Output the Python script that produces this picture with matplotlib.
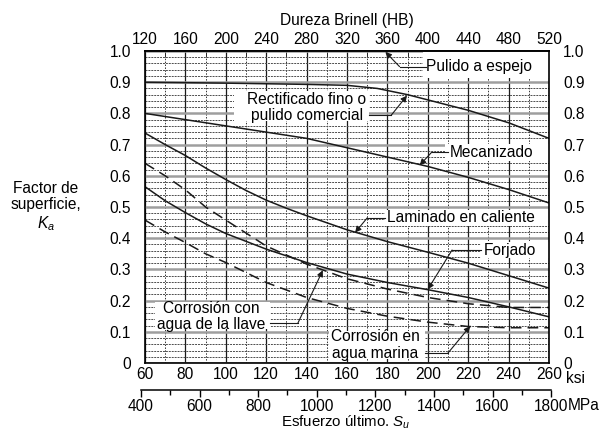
import matplotlib.pyplot as plt
from matplotlib.patches import Rectangle
from matplotlib.ticker import MultipleLocator

'''
Factor de superficie Ka vs esfuerzo ultimo (ksi), con escalas de
dureza Brinell arriba y MPa abajo. Valores leidos de la grafica.
'''

plt.rcParams['font.family'] = ['Liberation Sans', 'DejaVu Sans']
plt.rcParams['mathtext.fontset'] = 'custom'
plt.rcParams['mathtext.rm'] = 'Liberation Sans'
plt.rcParams['mathtext.it'] = 'Liberation Sans:italic'
FS = 11.2

KSI_TO_MPA = 6.895

# curvas: esfuerzo ultimo (ksi) -> Ka
espejo_su = [60, 260]
espejo_ka = [1.0, 1.0]

rect_su = [60, 100, 140, 160, 175, 190, 205, 220, 240, 260]
rect_ka = [0.90, 0.897, 0.893, 0.89, 0.88, 0.86, 0.835, 0.81, 0.77, 0.72]

mec_su = [60, 80, 100, 120, 140, 160, 180, 200, 220, 240, 260]
mec_ka = [0.80, 0.78, 0.76, 0.74, 0.72, 0.69, 0.66, 0.63, 0.595, 0.556, 0.513]

lam_su = [60, 70, 80, 90, 100, 110, 120, 130, 140, 160, 180, 200, 220, 240, 260]
lam_ka = [0.737, 0.70, 0.665, 0.625, 0.588, 0.553, 0.522, 0.496, 0.472, 0.427, 0.389, 0.355, 0.32, 0.28, 0.24]

forj_su = [60, 70, 80, 90, 100, 120, 140, 160, 180, 200, 220, 240, 260]
forj_ka = [0.565, 0.52, 0.482, 0.446, 0.415, 0.365, 0.322, 0.285, 0.258, 0.235, 0.21, 0.18, 0.148]

llave_su = [60, 70, 80, 90, 100, 120, 140, 160, 180, 200, 220, 240, 260]
llave_ka = [0.64, 0.60, 0.555, 0.50, 0.458, 0.375, 0.317, 0.27, 0.237, 0.21, 0.19, 0.178, 0.178]

marina_su = [60, 70, 80, 90, 100, 120, 140, 160, 180, 200, 220, 240, 260]
marina_ka = [0.458, 0.42, 0.386, 0.35, 0.322, 0.258, 0.21, 0.175, 0.15, 0.131, 0.117, 0.113, 0.113]

ka_ticks = [0, 0.1, 0.2, 0.3, 0.4, 0.5, 0.6, 0.7, 0.8, 0.9, 1.0]
ka_labels = ['0', '0.1', '0.2', '0.3', '0.4', '0.5', '0.6', '0.7', '0.8', '0.9', '1.0']
ksi_ticks = list(range(60, 261, 20))
hb_ticks = list(range(120, 521, 40))
mpa_ticks = list(range(400, 1801, 200))

# etiquetas: texto, posicion, alineacion, inicio de guia, codo, punta, caja blanca (x0, x1, y0, y1)
labels = [
    ('Pulido a espejo', (199, 0.95), 'left', (199, 0.95), (186, 0.95), (179, 0.997),
     (197.5, 260, 0.915, 0.997)),
    ('Rectificado fino o\npulido comercial', (140, 0.82), 'center', (171, 0.795), (182, 0.795), (189.7, 0.857),
     (104, 171, 0.775, 0.872)),
    ('Mecanizado', (211, 0.676), 'left', (210, 0.676), (202, 0.676), (196, 0.634),
     (208.5, 260, 0.648, 0.703)),
    ('Laminado en caliente', (180, 0.465), 'left', (179, 0.465), (170, 0.465), (164, 0.418),
     (179, 260, 0.438, 0.49)),
    ('Forjado', (227.5, 0.362), 'left', (226.5, 0.362), (212, 0.362), (200, 0.236),
     (226.5, 260, 0.337, 0.388)),
    ('Corrosión en\nagua marina', (174, 0.058), 'center', (198.5, 0.032), (210, 0.032), (221, 0.118),
     (151, 198.5, 0.012, 0.102)),
    ('Corrosión con\nagua de la llave', (93, 0.15), 'center', (122, 0.128), (135.7, 0.128), (148, 0.297),
     (65, 122, 0.108, 0.196)),
]


def ksi_to_hb(s):
    return 120 + (s - 60) * 2


def hb_to_ksi(h):
    return 60 + (h - 120) / 2


def main():
    fig = plt.figure(figsize=(6.04, 4.32), dpi=100)
    left, width = 145 / 604, 404 / 604
    ax = fig.add_axes([left, 69 / 432, width, 312 / 432])

    ax.set_xlim(60, 260)
    ax.set_ylim(0, 1.0)

    # grilla
    ax.set_axisbelow(True)
    ax.xaxis.set_major_locator(MultipleLocator(20))
    ax.xaxis.set_minor_locator(MultipleLocator(10))
    ax.yaxis.set_major_locator(MultipleLocator(0.1))
    ax.yaxis.set_minor_locator(MultipleLocator(0.02))
    ax.grid(which='major', axis='x', color='0.1', lw=0.9)
    ax.grid(which='minor', axis='x', color='0.2', lw=0.7, ls=(0, (1.5, 1.5)))
    ax.grid(which='major', axis='y', color='0.62', lw=1.8)
    ax.grid(which='minor', axis='y', color='0.3', lw=0.7, ls=(0, (2, 1)))

    line_kw = dict(color='0.1', lw=1.1, zorder=3)
    dash_kw = dict(color='0.1', lw=1.1, ls=(0, (7, 4)), zorder=3)
    ax.plot(espejo_su, espejo_ka, clip_on=False, **line_kw)
    ax.plot(rect_su, rect_ka, **line_kw)
    ax.plot(mec_su, mec_ka, **line_kw)
    ax.plot(lam_su, lam_ka, **line_kw)
    ax.plot(forj_su, forj_ka, **line_kw)
    ax.plot(llave_su, llave_ka, **dash_kw)
    ax.plot(marina_su, marina_ka, **dash_kw)

    for text, pos, ha, start, corner, tip, box in labels:
        x0, x1, y0, y1 = box
        ax.add_patch(Rectangle((x0, y0), x1 - x0, y1 - y0, fc='white', ec='none', zorder=1))
        ax.text(pos[0], pos[1], text, ha=ha, va='center', fontsize=FS,
                linespacing=1.1, zorder=4)
        ax.plot([start[0], corner[0]], [start[1], corner[1]], color='0.1', lw=0.8, zorder=5)
        ax.annotate('', xy=tip, xytext=corner, zorder=5,
                    arrowprops=dict(arrowstyle='-|>', color='0.1', lw=0.8,
                                    mutation_scale=9, shrinkA=0, shrinkB=0))

    for sp in ax.spines.values():
        sp.set_linewidth(1.2)
        sp.set_zorder(6)

    ax.set_xticks(ksi_ticks)
    ax.set_yticks(ka_ticks)
    ax.set_yticklabels(ka_labels)
    ax.tick_params(axis='x', which='major', length=0, pad=3, labelsize=FS)
    ax.tick_params(axis='x', which='minor', length=0)
    ax.tick_params(axis='y', which='both', length=0, pad=10, labelsize=FS,
                   labelleft=True, labelright=True)
    ax.annotate('ksi', xy=(260, 0), xytext=(12, -5.5), textcoords='offset points',
                ha='left', va='top', fontsize=FS, annotation_clip=False)

    ax.text(-0.245, 0.5, 'Factor de\nsuperficie,\n$K_a$', transform=ax.transAxes,
            ha='center', va='center', fontsize=FS, linespacing=1.15)

    # escala Brinell
    top = ax.secondary_xaxis('top', functions=(ksi_to_hb, hb_to_ksi))
    top.set_xticks(hb_ticks)
    top.xaxis.set_minor_locator(MultipleLocator(20))
    top.tick_params(which='major', direction='in', length=0, pad=3, labelsize=FS)
    top.tick_params(which='minor', direction='in', length=4)
    top.set_xlabel('Dureza Brinell (HB)', fontsize=FS, labelpad=5)
    top.spines['top'].set_linewidth(1.2)

    # escala MPa
    lo, hi = mpa_ticks[0] / KSI_TO_MPA, mpa_ticks[-1] / KSI_TO_MPA
    mleft = left + (lo - 60) / 200 * width
    mwidth = (hi - lo) / 200 * width
    mx = fig.add_axes([mleft, 42 / 432, mwidth, 0.001])
    mx.patch.set_alpha(0)
    for name in ('left', 'right', 'top'):
        mx.spines[name].set_visible(False)
    mx.spines['bottom'].set_linewidth(1.1)
    mx.set_xlim(mpa_ticks[0], mpa_ticks[-1])
    mx.set_yticks([])
    mx.set_xticks(mpa_ticks)
    mx.xaxis.set_minor_locator(MultipleLocator(100))
    mx.tick_params(which='major', direction='out', length=5, width=1, pad=1.5, labelsize=FS)
    mx.tick_params(which='minor', direction='out', length=3.5, width=1)
    mx.annotate('MPa', xy=(1800, 0), xytext=(12, -6), textcoords='offset points',
                ha='left', va='top', fontsize=FS, annotation_clip=False)
    mx.set_xlabel('Esfuerzo último. $S_u$', fontsize=10.8, labelpad=0)

    fig.savefig('out.png', dpi=100)


if __name__ == "__main__":
    main()
